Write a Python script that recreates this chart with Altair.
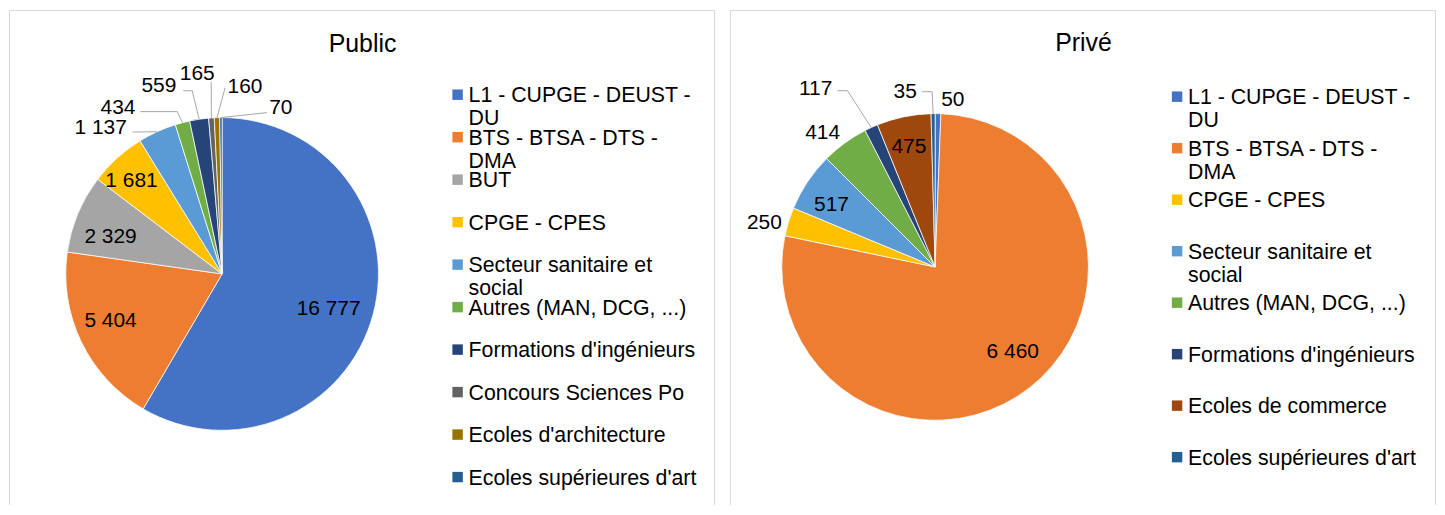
import math
import altair as alt
import pandas as pd

# ---------------- data ----------------
public_categories = [
    "L1 - CUPGE - DEUST - DU", "BTS - BTSA - DTS - DMA", "BUT", "CPGE - CPES",
    "Secteur sanitaire et social", "Autres (MAN, DCG, ...)", "Formations d'ingénieurs",
    "Concours Sciences Po", "Ecoles d'architecture", "Ecoles supérieures d'art",
]
public_values = [16777, 5404, 2329, 1681, 1137, 434, 559, 165, 160, 70]

private_categories = [
    "L1 - CUPGE - DEUST - DU", "BTS - BTSA - DTS - DMA", "CPGE - CPES",
    "Secteur sanitaire et social", "Autres (MAN, DCG, ...)", "Formations d'ingénieurs",
    "Ecoles de commerce", "Ecoles supérieures d'art",
]
private_values = [50, 6460, 250, 517, 414, 117, 475, 35]

# legend text, "|" marks the line break
legend_text = {
    "L1 - CUPGE - DEUST - DU": "L1 - CUPGE - DEUST -|DU",
    "BTS - BTSA - DTS - DMA": "BTS - BTSA - DTS -|DMA",
    "Secteur sanitaire et social": "Secteur sanitaire et|social",
}

colors = {
    "L1 - CUPGE - DEUST - DU": "#4472C4",
    "BTS - BTSA - DTS - DMA": "#ED7D31",
    "BUT": "#A5A5A5",
    "CPGE - CPES": "#FFC000",
    "Secteur sanitaire et social": "#5B9BD5",
    "Autres (MAN, DCG, ...)": "#70AD47",
    "Formations d'ingénieurs": "#264478",
    "Concours Sciences Po": "#636363",
    "Ecoles d'architecture": "#997300",
    "Ecoles supérieures d'art": "#255E91",
    "Ecoles de commerce": "#9E480E",
}

# ---------------- layout ----------------
FONT = "Liberation Sans"
W, H = 709, 497

# label anchors relative to pie centre (layout, px)
public_label_pos = {
    "L1 - CUPGE - DEUST - DU": (107, 33.5), "BTS - BTSA - DTS - DMA": (-112, 46),
    "BUT": (-112, -38.5), "CPGE - CPES": (-91, -95),
    "Secteur sanitaire et social": (-122, -148.5), "Autres (MAN, DCG, ...)": (-104.5, -168.5),
    "Formations d'ingénieurs": (-63.5, -190), "Concours Sciences Po": (-25, -202.5),
    "Ecoles d'architecture": (23, -189.5), "Ecoles supérieures d'art": (59, -168),
}
public_leaders = {
    "Secteur sanitaire et social": [(-90, -142.5)],
    "Autres (MAN, DCG, ...)": [(-82, -163), (-45, -163)],
    "Formations d'ingénieurs": [(-39, -184), (-30, -184)],
    "Concours Sciences Po": [(-11, -193)],
    "Ecoles d'architecture": [(3, -187)],
    "Ecoles supérieures d'art": [(45, -162)],
}
private_label_pos = {
    "L1 - CUPGE - DEUST - DU": (17.8, -168.8), "BTS - BTSA - DTS - DMA": (78, 83.5),
    "CPGE - CPES": (-171.5, -45.5), "Secteur sanitaire et social": (-104, -63.5),
    "Autres (MAN, DCG, ...)": (-113, -136.3), "Formations d'ingénieurs": (-120, -180.5),
    "Ecoles de commerce": (-26.3, -122.3), "Ecoles supérieures d'art": (-30, -177.3),
}
private_leaders = {
    "Formations d'ingénieurs": [(-98, -177), (-88, -177)],
    "Ecoles supérieures d'art": [(-13, -176), (-3, -176)],
}

BORDER = "#d9d9d9"


def build_panel(title, cats, vals, center, radius, label_pos, leaders,
                sq_x, txt_x, legend_range, title_xy):
    cx, cy = center
    n = len(cats)
    total = float(sum(vals))
    mids, cum = [], 0.0
    for v in vals:
        mids.append((cum + v / 2.0) / total * 2 * math.pi)
        cum += v
    df = pd.DataFrame({
        "cat": cats,
        "value": vals,
        "order": list(range(n)),
        "label": [f"{v:,}".replace(",", " ") for v in vals],
        "lx": [cx + label_pos[c][0] for c in cats],
        "ly": [cy + label_pos[c][1] + 7.5 for c in cats],
        "legend": [legend_text.get(c, c) for c in cats],
    })
    rows = []
    for c, pts in leaders.items():
        i = cats.index(c)
        seq = 0
        for (dx, dy) in pts:
            rows.append({"id": c, "seq": seq, "x": cx + dx, "y": cy + dy})
            seq += 1
        rows.append({"id": c, "seq": seq,
                     "x": cx + radius * math.sin(mids[i]),
                     "y": cy - radius * math.cos(mids[i])})
    lead_df = pd.DataFrame(rows)

    color_enc = alt.Color("cat:N", scale=alt.Scale(domain=cats, range=[colors[c] for c in cats]),
                          legend=None)
    base = alt.Chart(df)

    one = alt.Chart(pd.DataFrame({"k": [0]}))
    left = one.mark_rule(color=BORDER, strokeWidth=1).encode(
        x=alt.value(0.5), y=alt.value(0), y2=alt.value(H))
    right = one.mark_rule(color=BORDER, strokeWidth=1).encode(
        x=alt.value(W - 0.5), y=alt.value(0), y2=alt.value(H))
    top = one.mark_rule(color=BORDER, strokeWidth=1).encode(
        x=alt.value(0), x2=alt.value(W), y=alt.value(0.5))

    pie = base.mark_arc(outerRadius=radius, stroke="white", strokeWidth=0.75).encode(
        theta=alt.Theta("value:Q", stack=True),
        color=color_enc,
        order=alt.Order("order:Q", sort="ascending"),
        x=alt.value(cx), y=alt.value(cy),
    )
    lead = alt.Chart(lead_df).mark_line(color="#a6a6a6", strokeWidth=1).encode(
        x=alt.X("x:Q", scale=None), y=alt.Y("y:Q", scale=None),
        detail="id:N", order="seq:Q")
    labels = base.mark_text(fontSize=21, font=FONT, color="#000000",
                            align="center", baseline="alphabetic").encode(
        x=alt.X("lx:Q", scale=None), y=alt.Y("ly:Q", scale=None), text="label:N")

    ly = alt.Y("order:Q", scale=alt.Scale(domain=[0, n - 1], range=legend_range,
                                          nice=False, zero=False), axis=None)
    leg_sq = base.mark_square(size=110, opacity=1).encode(
        x=alt.value(sq_x), y=ly, color=color_enc)
    leg_tx = base.transform_calculate(lines="split(datum.legend, '|')").mark_text(
        align="left", baseline="alphabetic", dy=7.5, fontSize=21.4, font=FONT,
        lineHeight=23, color="#000000").encode(
        x=alt.value(txt_x), y=ly, text="lines:N")

    ttl = alt.Chart(pd.DataFrame({"t": [title]})).mark_text(
        fontSize=25, font=FONT, align="center", baseline="alphabetic", color="#000000").encode(
        x=alt.value(title_xy[0]), y=alt.value(title_xy[1]), text="t:N")

    return alt.layer(left, right, top, pie, lead, labels, leg_sq, leg_tx, ttl).properties(
        width=W, height=H, view=alt.ViewBackground(stroke="transparent", strokeWidth=0))


p_public = build_panel("Public", public_categories, public_values, (214, 265), 157,
                       public_label_pos, public_leaders, 450.5, 461.5, [85, 469], (355, 42))
p_private = build_panel("Privé", private_categories, private_values, (206, 258), 154,
                        private_label_pos, private_leaders, 449, 460, [87, 449], (355, 41))

chart = alt.hconcat(p_public, p_private, spacing=13).resolve_scale(
    color="independent", theta="independent", y="independent"
).configure_view(stroke="transparent", strokeWidth=0).configure(font=FONT).properties(padding=0)

chart.save("out.html", embed_options={"renderer": "svg", "actions": False})
